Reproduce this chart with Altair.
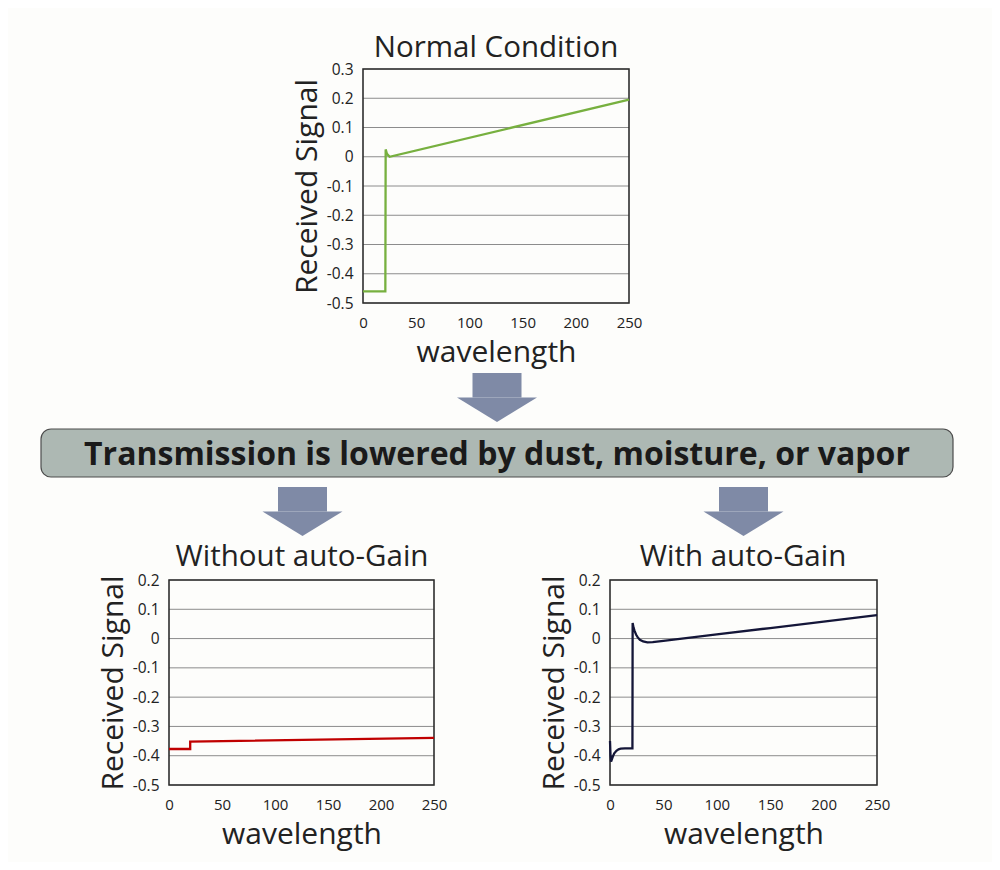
import altair as alt
import pandas as pd

# ---------------- data ----------------
X_TICKS = [0, 50, 100, 150, 200, 250]
Y_TICKS_TOP = [-0.5, -0.4, -0.3, -0.2, -0.1, 0.0, 0.1, 0.2, 0.3]
Y_TICKS_BOTTOM = [-0.5, -0.4, -0.3, -0.2, -0.1, 0.0, 0.1, 0.2]

normal_x = [0, 21, 21.3, 22.5, 25, 250]
normal_y = [-0.46, -0.46, 0.025, 0.01, 0.0, 0.195]

without_x = [0, 20, 20, 250]
without_y = [-0.377, -0.377, -0.352, -0.339]

with_x = [0, 0.5, 1, 2, 3, 4, 6, 8, 10, 14, 21, 21.2, 22, 23, 24.5, 26, 28, 31, 35,
          40, 50, 100, 150, 200, 250]
with_y = [-0.35, -0.40, -0.42, -0.41, -0.40, -0.392, -0.383, -0.378, -0.376, -0.375,
          -0.375, 0.053, 0.038, 0.026, 0.013, 0.004, -0.004, -0.010, -0.013,
          -0.012, -0.008, 0.014, 0.036, 0.058, 0.08]

panel_titles = ["Normal Condition", "Without auto-Gain", "With auto-Gain"]
banner_text = "Transmission is lowered by dust, moisture, or vapor"
x_title = "wavelength"
y_title = "Received Signal"

# ---------------- layout (page pixels; view origin is at page 8,8) ----------------
W, H = 984, 854
OFF = 8
# plot boxes: left, right, top, bottom (page px)
BOX_TOP = (363, 629, 69, 303)
BOX_BL = (169, 434, 580, 785)
BOX_BR = (610, 877, 580, 785)
TITLE_POS = [(496, 57), (302, 566), (743, 566)]
ARROWS = [(497, 373), (302.5, 487), (743.5, 487)]  # centre x, top y
BANNER = (41, 953, 429, 477)

FONT = "Open Sans"
TXT = "#222222"
ARROW_COL = "#7f8aa6"

LABEL_EXPR = ("abs(datum.value) < 1e-9 ? '0' : (datum.value < 0 ? '-' : '') + "
              "format(abs(datum.value), '.1f')")


def panel(xs, ys, color, yticks, box):
    left, right, top, bottom = [b - OFF for b in box]
    ylo, yhi = yticks[0], yticks[-1]
    xsc = alt.Scale(domain=[0, 250], range=[left, right], nice=False, zero=False)
    ysc = alt.Scale(domain=[ylo, yhi], range=[bottom, top], nice=False, zero=False)

    grid_df = pd.DataFrame({"v": yticks, "x0": [0] * len(yticks), "x1": [250] * len(yticks)})
    grid = alt.Chart(grid_df).mark_rule(color="#8c8c8c", strokeWidth=1).encode(
        x=alt.X("x0:Q", scale=xsc, axis=None),
        x2="x1:Q",
        y=alt.Y("v:Q", scale=ysc, axis=None),
    )

    frame_df = pd.DataFrame({"x0": [0], "x1": [250], "y0": [ylo], "y1": [yhi]})
    frame = alt.Chart(frame_df).mark_rect(
        fillOpacity=0, stroke="#2e2e2e", strokeWidth=1.6
    ).encode(
        x=alt.X("x0:Q", scale=xsc, axis=alt.Axis(
            values=X_TICKS, format="d", title=x_title, orient="bottom",
            offset=bottom - H, grid=False, ticks=False, domain=False,
            labelFont=FONT, labelFontSize=15, labelColor=TXT, labelPadding=12,
            labelFlush=False, labelOverlap=False,
            titleFont=FONT, titleFontSize=30, titleFontWeight="normal",
            titleColor=TXT, titlePadding=7)),
        x2="x1:Q",
        y=alt.Y("y0:Q", scale=ysc, axis=alt.Axis(
            values=yticks, labelExpr=LABEL_EXPR, title=y_title, orient="left",
            offset=-left, grid=False, ticks=False, domain=False,
            labelFont=FONT, labelFontSize=15.5, labelColor=TXT, labelPadding=10,
            labelFlush=False, labelOverlap=False,
            titleFont=FONT, titleFontSize=30, titleFontWeight="normal",
            titleColor=TXT, titlePadding=4)),
        y2="y1:Q",
    )

    line_df = pd.DataFrame({"x": xs, "y": ys, "i": list(range(len(xs)))})
    line = alt.Chart(line_df).mark_line(color=color, strokeWidth=2.3).encode(
        x=alt.X("x:Q", scale=xsc, axis=None),
        y=alt.Y("y:Q", scale=ysc, axis=None),
        order=alt.Order("i:Q"),
    )
    return [grid, frame, line]


# ---------------- decorations (pixel scale of the whole view) ----------------
dx = alt.Scale(domain=[0, W], range=[0, W], nice=False, zero=False)
dy = alt.Scale(domain=[0, H], range=[0, H], nice=False, zero=False)

bl, br, bt, bb = BANNER
banner_df = pd.DataFrame({"x0": [bl - OFF], "x1": [br - OFF], "y0": [bt - OFF], "y1": [bb - OFF]})
banner = alt.Chart(banner_df).mark_rect(
    fill="#adb8b3", stroke="#4d4d4d", strokeWidth=1.2, cornerRadius=10
).encode(
    x=alt.X("x0:Q", scale=dx, axis=None), x2="x1:Q",
    y=alt.Y("y0:Q", scale=dy, axis=None), y2="y1:Q",
)
banner_txt = alt.Chart(pd.DataFrame({
    "x": [(bl + br) / 2 - OFF], "y": [(bt + bb) / 2 - OFF], "t": [banner_text]
})).mark_text(font=FONT, fontSize=32, fontWeight="bold", color="#1a1a1a",
              align="center", baseline="middle", dy=2).encode(
    x=alt.X("x:Q", scale=dx, axis=None),
    y=alt.Y("y:Q", scale=dy, axis=None),
    text="t:N",
)

stem_rows, tri_rows = [], []
for k, (cx, ty) in enumerate(ARROWS):
    cx -= OFF
    ty -= OFF
    stem_rows.append({"x0": cx - 24.5, "x1": cx + 24.5, "y0": ty, "y1": ty + 24.5})
    base = ty + 24.5
    tri_rows += [
        {"a": k, "x": cx - 40, "y": base, "y2": base},
        {"a": k, "x": cx, "y": base + 24.5, "y2": base},
        {"a": k, "x": cx + 40, "y": base, "y2": base},
    ]
stems = alt.Chart(pd.DataFrame(stem_rows)).mark_rect(fill=ARROW_COL).encode(
    x=alt.X("x0:Q", scale=dx, axis=None), x2="x1:Q",
    y=alt.Y("y0:Q", scale=dy, axis=None), y2="y1:Q",
)
tris = alt.Chart(pd.DataFrame(tri_rows)).mark_area(color=ARROW_COL, opacity=1).encode(
    x=alt.X("x:Q", scale=dx, axis=None),
    y=alt.Y("y:Q", scale=dy, axis=None),
    y2="y2:Q",
    detail="a:N",
)

titles = alt.Chart(pd.DataFrame({
    "x": [p[0] - OFF for p in TITLE_POS],
    "y": [p[1] - OFF for p in TITLE_POS],
    "t": panel_titles,
})).mark_text(font=FONT, fontSize=29.5, color=TXT, align="center",
              baseline="alphabetic").encode(
    x=alt.X("x:Q", scale=dx, axis=None),
    y=alt.Y("y:Q", scale=dy, axis=None),
    text="t:N",
)

layers = [banner, banner_txt, stems, tris, titles]
layers += panel(normal_x, normal_y, "#77b03f", Y_TICKS_TOP, BOX_TOP)
layers += panel(without_x, without_y, "#c00000", Y_TICKS_BOTTOM, BOX_BL)
layers += panel(with_x, with_y, "#141638", Y_TICKS_BOTTOM, BOX_BR)

chart = alt.layer(*layers).resolve_scale(
    x="independent", y="independent"
).resolve_axis(
    x="independent", y="independent"
).properties(
    width=W, height=H, padding=0,
    autosize=alt.AutoSizeParams(type="none"),
    background="#fdfdfb",
).configure_view(stroke=None)

chart.save("out.html", embed_options={"renderer": "svg", "actions": False})
